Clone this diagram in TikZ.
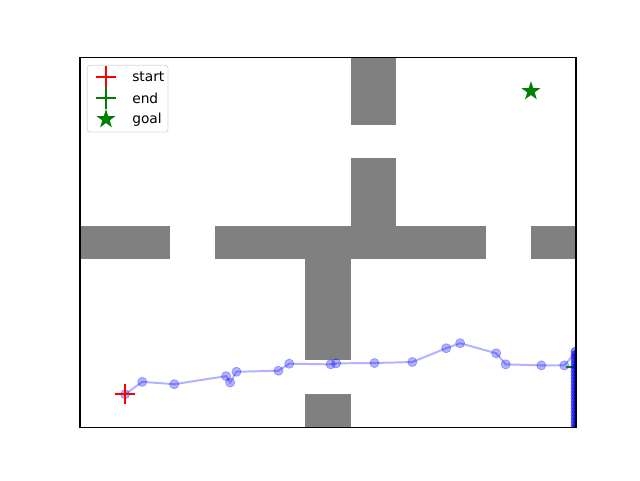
\documentclass[tikz,border=0pt]{standalone}
\usepackage{fontspec}
\setmainfont{DejaVu Sans}
\usetikzlibrary{shapes.geometric, positioning}

\definecolor{mplgray}{HTML}{808080}
\definecolor{mplgreen}{HTML}{008000}
\definecolor{mplred}{HTML}{FF0000}
\definecolor{mplblue}{HTML}{0000FF}

\tikzset{
  wall/.style={fill=mplgray, draw=none},
  waypt/.style={circle, inner sep=0pt, minimum size=0.23cm, fill=mplblue, fill opacity=0.3, draw=mplblue, draw opacity=0.3, line width=0.5pt},
  goalstar/.style={star, star points=5, star point ratio=2.6, inner sep=0pt, minimum size=0.5cm, fill=mplgreen, draw=none},
  legtext/.style={font=\fontsize{9.8}{11}\selectfont, anchor=west, inner sep=0pt}
}

\begin{document}
\begin{tikzpicture}
\useasboundingbox (0,0) rectangle (16,12);

\begin{scope}[shift={(2,1.32)}, x=1.1273cm, y=0.84cm]
\clip (0,0) rectangle (11,11);

% Obstacles
\fill[wall] (6,9) rectangle (7,11);
\fill[wall] (6,6) rectangle (7,8);
\fill[wall] (0,5) rectangle (2,6);
\fill[wall] (3,5) rectangle (9,6);
\fill[wall] (10,5) rectangle (11,6);
\fill[wall] (5,2) rectangle (6,5);
\fill[wall] (5,0) rectangle (6,1);

% Path
\draw[mplblue, opacity=0.3, line width=1.4pt]
  (1.0,0.98) -- (1.38,1.35) -- (2.09,1.28) -- (3.24,1.52) -- (3.33,1.33) -- (3.47,1.65)
  -- (4.40,1.68) -- (4.64,1.89) -- (5.56,1.87) -- (5.68,1.90) -- (6.53,1.91) -- (7.37,1.94)
  -- (8.12,2.35) -- (8.43,2.50) -- (9.23,2.20) -- (9.44,1.87) -- (10.23,1.84) -- (10.74,1.84)
  -- (10.97,2.2) -- (10.97,-0.5);
\foreach \px/\py in {1.0/0.98, 1.38/1.35, 2.09/1.28, 3.24/1.52, 3.33/1.33, 3.47/1.65,
  4.40/1.68, 4.64/1.89, 5.56/1.87, 5.68/1.90, 6.53/1.91, 7.37/1.94, 8.12/2.35,
  8.43/2.50, 9.23/2.20, 9.44/1.87, 10.23/1.84, 10.74/1.84}
  \node[waypt] at (\px,\py) {};

% End marker
\draw[mplgreen, line width=1.4pt] (10.78,1.8) -- (11.22,1.8) (11,1.5) -- (11,2.1);

% Cluster at the right edge
\foreach \py in {2.25,2.15,...,-0.1}
  \node[waypt, fill opacity=0.45, draw opacity=0.45] at (10.99,\py) {};
\foreach \py in {2.2,2.1,...,-0.1}
  \node[waypt, fill opacity=0.45, draw opacity=0.45] at (11.05,\py) {};

% Start and goal
\draw[mplred, line width=1.4pt] (0.78,0.98) -- (1.22,0.98) (1.0,0.68) -- (1.0,1.28);
\node[goalstar] (goal) at (10,10) {};
\end{scope}

% Axes frame
\draw[line width=0.8pt] (2,1.32) rectangle (14.4,10.56);

% Legend
\draw[draw=black!15, fill=white, fill opacity=0.8, rounded corners=2pt, line width=0.6pt] (2.18,8.7) rectangle (4.2,10.37);
\node[legtext] (lstart) at (3.3,10.07) {start};
\node[legtext] (lend) at (3.3,9.55) {end};
\node[legtext] (lgoal) at (3.3,9.02) {goal};
\draw[mplred, line width=1.4pt] (2.4,10.07) -- (2.9,10.07) (2.65,9.8) -- (2.65,10.34);
\draw[mplgreen, line width=1.4pt] (2.4,9.55) -- (2.9,9.55) (2.65,9.28) -- (2.65,9.82);
\node[goalstar] (lgoalstar) at (2.65,9.02) {};
\end{tikzpicture}
\end{document}
